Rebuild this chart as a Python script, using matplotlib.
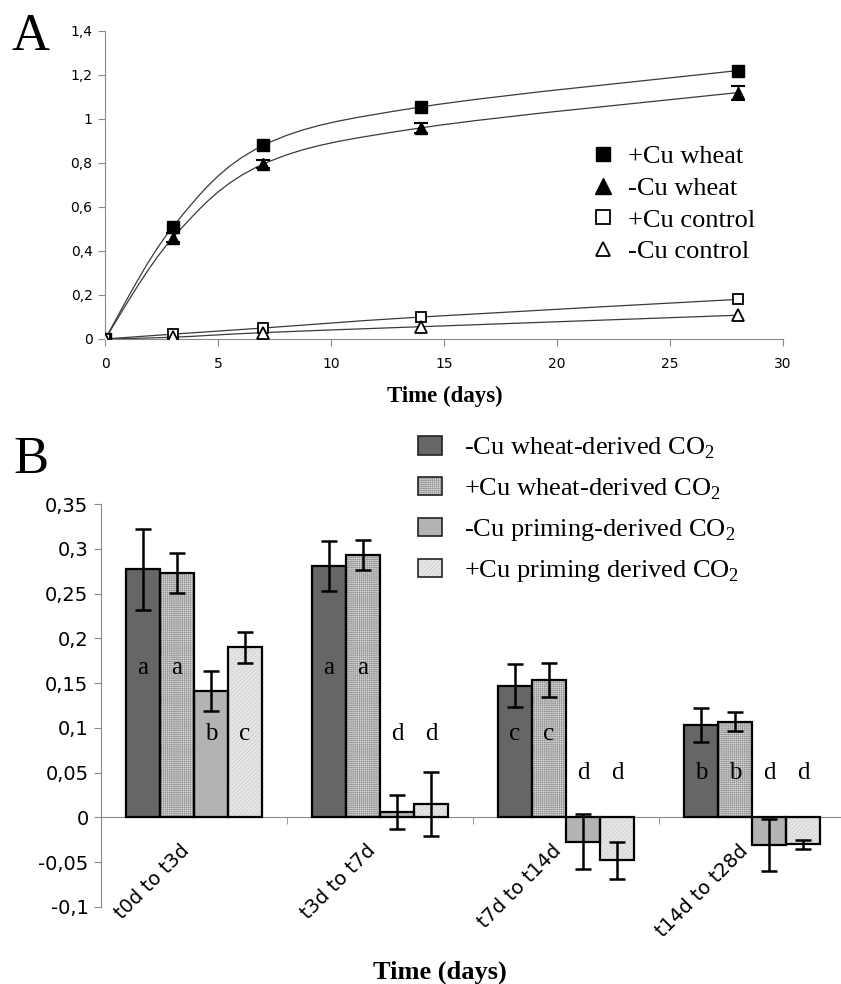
import matplotlib
matplotlib.use('Agg')
import matplotlib.pyplot as plt
import numpy as np
from matplotlib.path import Path
from matplotlib.patches import PathPatch, Patch
from matplotlib.lines import Line2D
from matplotlib.transforms import ScaledTranslation

SERIF = 'Liberation Serif'
SPINE = '#8a8a8a'
plt.rcParams['font.family'] = 'DejaVu Sans'
plt.rcParams['mathtext.fontset'] = 'custom'
plt.rcParams['mathtext.rm'] = SERIF
plt.rcParams['hatch.linewidth'] = 0.5

# panel A: cumulative CO2 over time
days = [0, 3, 7, 14, 28]
cu_wheat = [0, 0.51, 0.88, 1.055, 1.22]
nocu_wheat = [0, 0.46, 0.795, 0.96, 1.12]
nocu_wheat_err = [0, 0.02, 0.017, 0.022, 0.032]
cu_control = [0, 0.022, 0.05, 0.10, 0.18]
nocu_control = [0, 0.008, 0.029, 0.056, 0.108]

# panel B: CO2 per period
periods = ['t0d to t3d', 't3d to t7d', 't7d to t14d', 't14d to t28d']
nocu_wheat_co2 = [0.277, 0.281, 0.147, 0.1035]
nocu_wheat_co2_err = [0.045, 0.028, 0.024, 0.019]
cu_wheat_co2 = [0.273, 0.293, 0.154, 0.107]
cu_wheat_co2_err = [0.022, 0.017, 0.019, 0.011]
nocu_priming_co2 = [0.141, 0.006, -0.027, -0.0305]
nocu_priming_co2_err = [0.022, 0.019, 0.031, 0.029]
cu_priming_co2 = [0.190, 0.015, -0.048, -0.030]
cu_priming_co2_err = [0.017, 0.036, 0.021, 0.005]
letters = [['a', 'a', 'b', 'c'], ['a', 'a', 'd', 'd'], ['c', 'c', 'd', 'd'], ['b', 'b', 'd', 'd']]
letter_y = [[0.167, 0.167, 0.093, 0.093], [0.167, 0.167, 0.093, 0.093],
            [0.093, 0.093, 0.05, 0.05], [0.05, 0.05, 0.05, 0.05]]


def smooth_path(x, y):
    # Catmull-Rom style bezier like the spreadsheet "smoothed line"
    pts = np.column_stack([x, y]).astype(float)
    ext = np.vstack([pts[0], pts, pts[-1]])
    verts = [pts[0]]
    codes = [Path.MOVETO]
    for i in range(len(pts) - 1):
        p0, p1, p2, p3 = ext[i], ext[i + 1], ext[i + 2], ext[i + 3]
        verts += [p1 + (p2 - p0) / 6, p2 - (p3 - p1) / 6, p2]
        codes += [Path.CURVE4] * 3
    return Path(verts, codes)


fig = plt.figure(figsize=(8.41, 9.84), dpi=100)

# ---------------- panel A ----------------
axA = fig.add_axes([105 / 841, 1 - 339 / 984, 678 / 841, 308 / 984])
for yv in [cu_wheat, nocu_wheat, cu_control, nocu_control]:
    axA.add_patch(PathPatch(smooth_path(days, yv), fill=False, edgecolor='#3a3a3a', lw=0.9, zorder=2))
axA.errorbar(days, nocu_wheat, yerr=nocu_wheat_err, fmt='none', ecolor='black',
             elinewidth=1, capsize=5, capthick=1.5, zorder=3)
axA.plot(days, cu_wheat, 's', ms=8, mfc='black', mec='black', zorder=4)
axA.plot(days, nocu_wheat, '^', ms=8.5, mfc='black', mec='black', zorder=4)
axA.plot(days, cu_control, 's', ms=7.5, mfc='white', mec='black', mew=1.3, zorder=4)
axA.plot(days, nocu_control, '^', ms=8, mfc='white', mec='black', mew=1.3, zorder=4)

axA.set_xlim(0, 30)
axA.set_ylim(0, 1.4)
axA.set_xticks(range(0, 31, 5))
yt = np.arange(0, 1.41, 0.2)
axA.set_yticks(yt)
axA.set_yticklabels([('%g' % round(v, 1)).replace('.', ',') for v in yt])
for s in ['top', 'right']:
    axA.spines[s].set_visible(False)
for s in ['left', 'bottom']:
    axA.spines[s].set_color(SPINE)
axA.tick_params(direction='out', length=5, color=SPINE, labelsize=10, pad=4)
axA.tick_params(axis='x', pad=8)

handlesA = [
    Line2D([], [], ls='none', marker='s', ms=10.5, mfc='black', mec='black'),
    Line2D([], [], ls='none', marker='^', ms=11.5, mfc='black', mec='black'),
    Line2D([], [], ls='none', marker='s', ms=9.5, mfc='white', mec='black', mew=1.3),
    Line2D([], [], ls='none', marker='^', ms=10.5, mfc='white', mec='black', mew=1.3),
]
axA.legend(handlesA, ['+Cu wheat', '-Cu wheat', '+Cu control', '-Cu control'],
           loc='center left', bbox_to_anchor=(591 / 841, 1 - 204 / 984),
           bbox_transform=fig.transFigure, frameon=False, prop={'family': SERIF, 'size': 19},
           handlelength=0.9, handletextpad=0.5, labelspacing=0.31, borderpad=0, borderaxespad=0)

fig.text(445 / 841, 1 - 396 / 984, 'Time (days)', family=SERIF, fontweight='bold',
         fontsize=16.5, ha='center', va='center')
fig.text(12 / 841, 1 - 50 / 984, 'A', family=SERIF, fontsize=38, ha='left', va='baseline')

# ---------------- panel B ----------------
axB = fig.add_axes([101 / 841, 1 - 907 / 984, 744 / 841, 403 / 984])
x = np.arange(len(periods))
width = 0.183
series = [
    (nocu_wheat_co2, nocu_wheat_co2_err, '#666666', None, '#666666'),
    (cu_wheat_co2, cu_wheat_co2_err, '#dcdcdc', '++++++++', '#9a9a9a'),
    (nocu_priming_co2, nocu_priming_co2_err, '#b3b3b3', None, '#b3b3b3'),
    (cu_priming_co2, cu_priming_co2_err, '#e6e6e6', '////////', '#cccccc'),
]
handlesB = []
for i, (vals, errs, face, hatch, hcol) in enumerate(series):
    pos = x + (i - 1.5) * width
    axB.bar(pos, vals, width, color=face, edgecolor=hcol, lw=0, hatch=hatch, zorder=2)
    axB.bar(pos, vals, width, fill=False, edgecolor='black', lw=1.6, zorder=3,
            yerr=errs, error_kw=dict(ecolor='black', elinewidth=1.8, capsize=6, capthick=1.8, zorder=4))
    handlesB.append((Patch(facecolor=face, edgecolor=hcol, lw=0, hatch=hatch),
                     Patch(fill=False, edgecolor='#222222', lw=1.2)))
    for j in range(len(periods)):
        axB.text(pos[j], letter_y[j][i], letters[j][i], family=SERIF, fontsize=18,
                 ha='center', va='center', zorder=5)

axB.set_xlim(-0.5, len(periods) - 0.5)
axB.set_ylim(-0.1, 0.35)
ytB = np.arange(-0.1, 0.351, 0.05)
axB.set_yticks(ytB)
axB.set_yticklabels([('%g' % round(v, 2)).replace('.', ',') for v in ytB])
axB.set_xticks(x)
axB.set_xticks(x[:-1] + 0.5, minor=True)
axB.set_xticklabels(periods)
for s in ['top', 'right']:
    axB.spines[s].set_visible(False)
axB.spines['bottom'].set_position(('data', 0))
for s in ['left', 'bottom']:
    axB.spines[s].set_color(SPINE)
axB.tick_params(axis='y', direction='out', length=5, color=SPINE, labelsize=14, pad=4)
axB.tick_params(axis='x', which='major', length=0, labelsize=14, pad=17, labelrotation=45)
axB.tick_params(axis='x', which='minor', direction='out', length=5, color=SPINE)
shift = ScaledTranslation(-0.14, 0, fig.dpi_scale_trans)
for lbl in axB.get_xticklabels():
    lbl.set_ha('right')
    lbl.set_va('top')
    lbl.set_rotation_mode('anchor')
    lbl.set_transform(lbl.get_transform() + shift)

axB.legend(handlesB, ['-Cu wheat-derived CO$_{\\mathregular{2}}$', '+Cu wheat-derived CO$_{\\mathregular{2}}$',
                      '-Cu priming-derived CO$_{\\mathregular{2}}$', '+Cu priming derived CO$_{\\mathregular{2}}$'],
           loc='center left', bbox_to_anchor=(418 / 841, 1 - 510 / 984),
           bbox_transform=fig.transFigure, frameon=False, prop={'family': SERIF, 'size': 19},
           handlelength=0.9, handleheight=0.7, handletextpad=0.85, labelspacing=0.58,
           borderpad=0, borderaxespad=0)

fig.text(440 / 841, 1 - 972 / 984, 'Time (days)', family=SERIF, fontweight='bold',
         fontsize=19, ha='center', va='center')
fig.text(13 / 841, 1 - 473 / 984, 'B', family=SERIF, fontsize=38, ha='left', va='baseline')

fig.savefig('out.png', dpi=100, facecolor='white')
